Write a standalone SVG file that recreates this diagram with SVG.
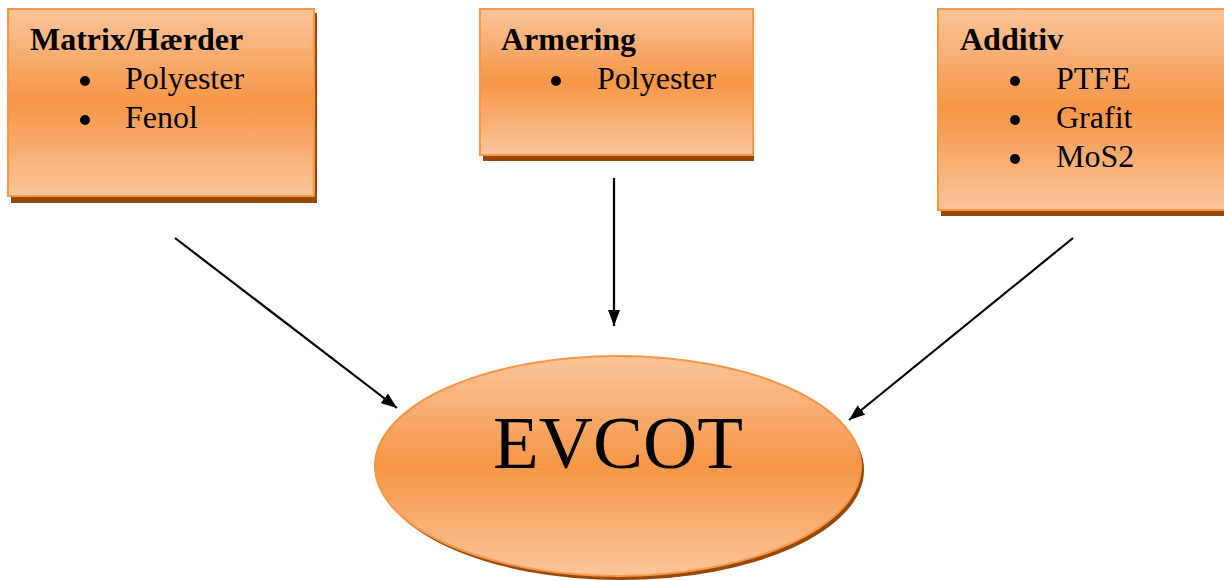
<svg xmlns="http://www.w3.org/2000/svg" width="1224" height="580" viewBox="0 0 1224 580">
<defs>
<linearGradient id="g" x1="0" y1="0" x2="0" y2="1">
<stop offset="0" stop-color="#F9C49B"/>
<stop offset="0.5" stop-color="#F79646"/>
<stop offset="1" stop-color="#F9C49B"/>
</linearGradient>
<marker id="a" viewBox="0 0 16 12" refX="16" refY="6" markerWidth="16" markerHeight="12" markerUnits="userSpaceOnUse" orient="auto">
<path d="M0,0 L16,6 L0,12 z" fill="#000"/>
</marker>
</defs>
<style>
.shadow{fill:#984807}
.box{fill:url(#g);stroke:#F79646;stroke-width:2}
.t{font-family:"Liberation Serif","Times New Roman",serif;font-size:32px;fill:#000}
.b{font-weight:bold}
.conn{stroke:#000;stroke-width:2.2;fill:none;marker-end:url(#a)}
</style>
<rect width="1224" height="580" fill="#fff"/>
<g id="matrix">
<rect class="shadow" x="11" y="13" width="306" height="190"/>
<rect class="box" x="8" y="9" width="306" height="187"/>
<text class="t b" x="30" y="50">Matrix/Hærder</text>
<circle cx="85" cy="81" r="5"/>
<text class="t" x="125" y="89">Polyester</text>
<circle cx="85" cy="120" r="5"/>
<text class="t" x="125" y="128">Fenol</text>
</g>
<g id="armering">
<rect class="shadow" x="483" y="13" width="271" height="148"/>
<rect class="box" x="480" y="9" width="273" height="146"/>
<text class="t b" x="501" y="50">Armering</text>
<circle cx="556" cy="81" r="5"/>
<text class="t" x="597" y="89">Polyester</text>
</g>
<g id="additiv">
<rect class="shadow" x="941" y="13" width="290" height="203"/>
<rect class="box" x="938" y="9" width="290" height="201"/>
<text class="t b" x="960" y="50">Additiv</text>
<circle cx="1015" cy="81" r="5"/>
<text class="t" x="1056" y="89">PTFE</text>
<circle cx="1015" cy="120" r="5"/>
<text class="t" x="1056" y="128">Grafit</text>
<circle cx="1015" cy="159" r="5"/>
<text class="t" x="1056" y="167">MoS2</text>
</g>
<g id="evcot">
<ellipse class="shadow" cx="621" cy="470" rx="243" ry="110"/>
<ellipse cx="618" cy="466" rx="243" ry="110" fill="url(#g)" stroke="#F79646" stroke-width="2"/>
<text x="618" y="468" text-anchor="middle" font-family="Liberation Serif, Times New Roman, serif" font-size="75" fill="#000">EVCOT</text>
</g>
<g id="connectors">
<line class="conn" x1="175" y1="238" x2="397" y2="408"/>
<line class="conn" x1="614" y1="178" x2="614" y2="326"/>
<line class="conn" x1="1073" y1="238" x2="849" y2="420"/>
</g>
</svg>
